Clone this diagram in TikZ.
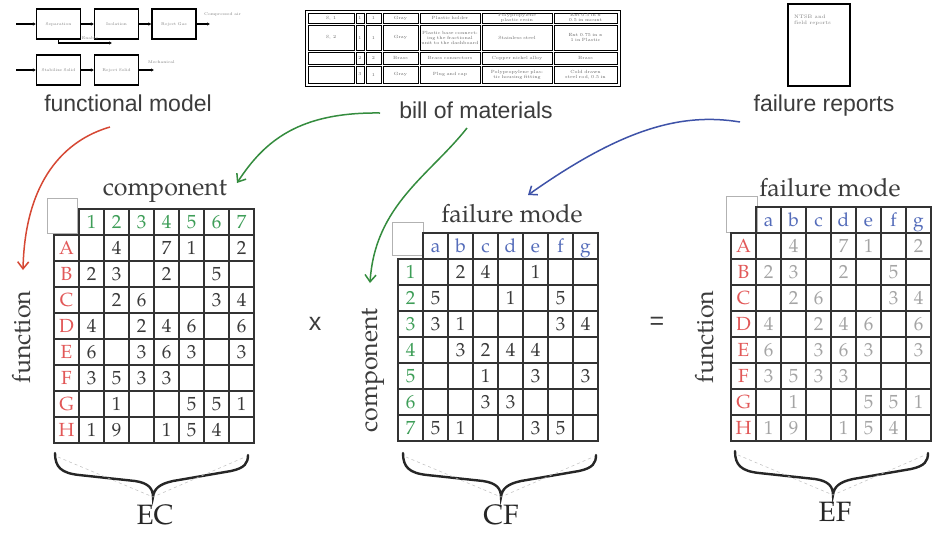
\documentclass[tikz,border=0pt]{standalone}
\usepackage{fontspec}
\newfontfamily\sansfam{Liberation Sans}
\newfontfamily\palfam{texgyrepagella-regular.otf}
\usetikzlibrary{arrows.meta}

\definecolor{fnred}{RGB}{226,88,88}
\definecolor{cpgreen}{RGB}{62,158,88}
\definecolor{fmblue}{RGB}{84,108,186}
\definecolor{valdark}{RGB}{58,58,58}
\definecolor{vallight}{RGB}{165,165,165}
\definecolor{arrred}{RGB}{214,72,52}
\definecolor{arrgreen}{RGB}{52,140,62}
\definecolor{arrblue}{RGB}{62,82,168}
\definecolor{inkgray}{RGB}{60,60,60}

% function x component and component x failure mode values
\newcommand{\ecrows}{{,4,,7,1,,2},{2,3,,2,,5,},{,2,6,,,3,4},{4,,2,4,6,,6},{6,,3,6,3,,3},{3,5,3,3,,,},{,1,,,5,5,1},{1,9,,1,5,4,}}
\newcommand{\cfrows}{{,2,4,,1,,},{5,,,1,,5,},{3,1,,,,3,4},{,3,2,4,4,,},{,,1,,3,,3},{,,3,3,,,},{5,1,,,3,5,}}

\begin{document}
\begin{tikzpicture}[x=1pt,y=-1pt,
   cell/.style={draw=black!80,line width=1.6pt,minimum width=25pt,minimum height=26pt,
     inner sep=0pt,text height=13pt,text depth=0pt,font=\palfam\fontsize{19}{19}\selectfont},
   corner/.style={draw=black!30,line width=0.8pt,fill=white,inner sep=0pt},
   title/.style={font=\palfam\fontsize{25}{25}\selectfont,text=inkgray},
   bigsans/.style={font=\sansfam\fontsize{23}{23}\selectfont,text=inkgray},
   bracelab/.style={font=\palfam\fontsize{28}{28}\selectfont,text=black!85},
   opsign/.style={font=\sansfam\fontsize{25}{25}\selectfont,text=inkgray},
   fbox/.style={draw,line width=1.4pt,minimum width=41pt,minimum height=30pt,
     text width=37pt,align=center,font=\fontsize{4}{4.5}\selectfont,text=black!50},
   fmarrow/.style={line width=1.4pt,-{Latex[length=3pt,width=3.5pt]}},
   tiny/.style={font=\fontsize{4}{4.5}\selectfont,text=black!50,inner sep=0pt},
   bomline/.style={line width=0.9pt},
   bomtext/.style={font=\fontsize{4.5}{5}\selectfont,text=black!60,align=center,inner sep=0pt},
   bigarrow/.style={line width=1.5pt,-{Straight Barb[length=7pt,width=11pt]}},
   facebrace/.pic={
     \draw[line width=2.4pt,black!85,line cap=round] (0,0) .. controls (0,14) and (6,20) .. (24,22)
        -- (80,28) .. controls (94,30) and (98,36) .. (98,44)
        .. controls (99,36) and (104,31) .. (118,28) -- (176,18)
        .. controls (190,15) and (193,10) .. (193,2);
     \draw[dashed,black!25,line width=0.5pt] (3,4) -- (98,44) -- (190,4);
   }]
   \fill[white] (0,0) rectangle (940,539);
   \useasboundingbox (0,0) rectangle (940,539);

   % functional model
   \node[fbox] (sep) at (58.5,24) {Separation};
   \node[fbox] (iso) at (116.5,24) {Isolation};
   \node[fbox] (rej) at (174,24) {Reject Gas};
   \node[fbox] (stab) at (58.5,70) {Stabilize Solid};
   \node[fbox] (rejs) at (116.5,70) {Reject Solid};
   \coordinate (in1) at (16,24);
   \coordinate (out1) at (210,24);
   \coordinate (en) at (112,43);
   \coordinate (in2) at (16,70);
   \coordinate (out2) at (154,70);
   \draw[fmarrow] (in1) -- (sep);
   \draw[fmarrow] (sep) -- (iso);
   \draw[fmarrow] (iso) -- (rej);
   \draw[fmarrow] (rej) -- (out1);
   \draw[fmarrow] (sep.south) |- (en);
   \draw[fmarrow] (in2) -- (stab);
   \draw[fmarrow] (stab) -- (rejs);
   \draw[fmarrow] (rejs) -- (out2);
   \node[tiny,anchor=west] (air) at (204,14) {Compressed air};
   \node[tiny] (enable) at (90,38.5) {Enable};
   \node[tiny,anchor=west] (mech) at (148,62) {Mechanical};
   \node[bigsans] (fm) at (128,103) {functional model};

   % bill of materials
   \draw[bomline] (305,10) rectangle (620,86);
   \foreach \ya/\yb in {12/24,24/51,51/65,65/84}
     \foreach \xa/\xb in {307/355,355/365,365/382,382/419,419/481,481/553,553/618}
       \draw[bomline] ({\xa+1},{\ya+1}) rectangle ({\xb-1},{\yb-1});
   \node[bomtext] (bom-1-1) at (331,18) {S, 1};
   \node[bomtext] (bom-1-2) at (360,18) {1};
   \node[bomtext] (bom-1-3) at (373.5,18) {1};
   \node[bomtext] (bom-1-4) at (400.5,18) {Gray};
   \node[bomtext,text width=56pt] (bom-1-5) at (450,18) {Plastic holder};
   \node[bomtext,text width=66pt] (bom-1-6) at (517,18) {Polypropylene plastic resin};
   \node[bomtext,text width=60pt] (bom-1-7) at (585.5,18) {Ext 0.5 in x 0.5 in mount};
   \node[bomtext] (bom-2-1) at (331,37.5) {S, 2};
   \node[bomtext] (bom-2-2) at (360,37.5) {1};
   \node[bomtext] (bom-2-3) at (373.5,37.5) {1};
   \node[bomtext] (bom-2-4) at (400.5,37.5) {Gray};
   \node[bomtext,text width=58pt] (bom-2-5) at (450,37.5) {Plastic base connecting the fractional unit to the dashboard};
   \node[bomtext,text width=66pt] (bom-2-6) at (517,37.5) {Stainless steel};
   \node[bomtext,text width=62pt] (bom-2-7) at (585.5,37.5) {Ext 0.75 in x 1 in Plastic};
   \node[bomtext] (bom-3-2) at (360,58) {2};
   \node[bomtext] (bom-3-3) at (373.5,58) {2};
   \node[bomtext] (bom-3-4) at (400.5,58) {Brass};
   \node[bomtext,text width=56pt] (bom-3-5) at (450,58) {Brass connectors};
   \node[bomtext,text width=66pt] (bom-3-6) at (517,58) {Copper nickel alloy};
   \node[bomtext,text width=60pt] (bom-3-7) at (585.5,58) {Brass};
   \node[bomtext] (bom-4-2) at (360,74.5) {3};
   \node[bomtext] (bom-4-3) at (373.5,74.5) {1};
   \node[bomtext] (bom-4-4) at (400.5,74.5) {Gray};
   \node[bomtext,text width=56pt] (bom-4-5) at (450,74.5) {Plug and cap};
   \node[bomtext,text width=66pt] (bom-4-6) at (517,74.5) {Polypropylene plastic housing fitting};
   \node[bomtext,text width=60pt] (bom-4-7) at (585.5,74.5) {Cold drawn steel rod, 0.5 in};
   \node[bigsans] (bom) at (476,110) {bill of materials};

   % failure reports
   \node[draw,line width=1.4pt,minimum width=62pt,minimum height=82pt] (ntsb) at (819,45) {};
   \node[tiny,font=\fontsize{5}{6}\selectfont,align=left,anchor=north west] (ntsb-t) at (794,15) {NTSB and\\field reports};
   \node[bigsans] (fr) at (824,106) {failure reports};

   % EC matrix
   \node[corner,minimum width=30pt,minimum height=35pt] (ec-c) at (62,215.5) {};
   \begin{scope}[shift={(54,209)}]
   \foreach \lab [count=\c] in {1,...,7}
     \node[cell,text=cpgreen] (ec-0-\c) at (25*\c+12.5,13) {\lab};
   \foreach \lab [count=\r] in {A,...,H}
     \node[cell,text=fnred] (ec-\r-0) at (12.5,26*\r+13) {\lab};
   \foreach \row [count=\r] in \ecrows
     \foreach \v [count=\c] in \row
       \node[cell,text=valdark] (ec-\r-\c) at (25*\c+12.5,26*\r+13) {\v};
   \end{scope}
   \node[title] (ec-t) at (165,191) {component};
   \node[title,rotate=90] (ec-fn) at (22,337) {function};
   \pic at (55,453) {facebrace};
   \node[bracelab] (ec) at (155,515) {EC};

   % CF matrix
   \node[corner,minimum width=31pt,minimum height=33pt] (cf-c) at (407.5,238.5) {};
   \begin{scope}[shift={(398,233)}]
   \foreach \lab [count=\c] in {a,...,g}
     \node[cell,text=fmblue] (cf-0-\c) at (25*\c+12.5,13) {\lab};
   \foreach \lab [count=\r] in {1,...,7}
     \node[cell,text=cpgreen] (cf-\r-0) at (12.5,26*\r+13) {\lab};
   \foreach \row [count=\r] in \cfrows
     \foreach \v [count=\c] in \row
       \node[cell,text=valdark] (cf-\r-\c) at (25*\c+12.5,26*\r+13) {\v};
   \end{scope}
   \node[title] (cf-t) at (512,214) {failure mode};
   \node[title,rotate=90] (cf-cp) at (373,370) {component};
   \pic at (403,453) {facebrace};
   \node[bracelab] (cf) at (501,515) {CF};

   % EF matrix
   \node[corner,minimum width=31pt,minimum height=36pt] (ef-c) at (741.5,214) {};
   \begin{scope}[shift={(731,207)}]
   \foreach \lab [count=\c] in {a,...,g}
     \node[cell,text=fmblue] (ef-0-\c) at (25*\c+12.5,13) {\lab};
   \foreach \lab [count=\r] in {A,...,H}
     \node[cell,text=fnred] (ef-\r-0) at (12.5,26*\r+13) {\lab};
   \foreach \row [count=\r] in \ecrows
     \foreach \v [count=\c] in \row
       \node[cell,text=vallight] (ef-\r-\c) at (25*\c+12.5,26*\r+13) {\v};
   \end{scope}
   \node[title] (ef-t) at (830,188) {failure mode};
   \node[title,rotate=90] (ef-fn) at (705,337) {function};
   \pic at (735,451) {facebrace};
   \node[bracelab] (ef) at (835,512) {EF};

   \node[opsign] (times) at (315,324) {x};
   \node[opsign] (equals) at (657,323) {=};

   % source arrows
   \coordinate (fm-out) at (110,127);
   \coordinate (ec-fn-in) at (23,270);
   \coordinate (bom-out1) at (380,113);
   \coordinate (ec-t-in) at (237,183);
   \coordinate (bom-out2) at (467,128);
   \coordinate (cf-cp-in) at (370,283);
   \coordinate (fr-out) at (740,122);
   \coordinate (cf-t-in) at (528,195);
   \draw[bigarrow,arrred] (fm-out) .. controls (65,140) and (25,180) .. (ec-fn-in);
   \draw[bigarrow,arrgreen] (bom-out1) .. controls (300,112) and (265,140) .. (ec-t-in);
   \draw[bigarrow,arrgreen] (bom-out2) .. controls (430,175) and (375,205) .. (cf-cp-in);
   \draw[bigarrow,arrblue] (fr-out) .. controls (680,112) and (620,130) .. (cf-t-in);
\end{tikzpicture}
\end{document}
